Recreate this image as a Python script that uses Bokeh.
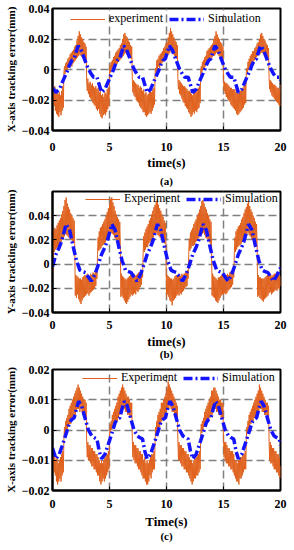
import numpy as np
from bokeh.plotting import figure
from bokeh.layouts import column
from bokeh.models import FixedTicker, CustomJSTickFormatter, LinearAxis
from bokeh.embed import file_html
from bokeh.resources import INLINE

# experiment sampling times (s), 0.05 s step
t_exp = np.round(np.arange(0, 401) * 0.05, 2)

# ---------------- (a) X-axis, values in 0.001 mm ----------------
exp_a = [
    -10, -20, -12, -24, -11, -27, -14, -29, -13, -30, -16, -31, -15, -28, -17, -30, -14, -27, -11, -25,
    -2, 2, -3, 4, -1, 5, 0, 7, 1, 8, 2, 10, 3, 11, 2, 12, 4, 13, 5, 15,
    6, 16, 7, 19, 8, 22, 9, 25, 10, 23, 9, 21, 8, 20, 9, 18, 7, 17, 6, 15,
    -8, -14, -6, -16, -9, -18, -8, -19, -10, -20, -9, -22, -11, -23, -12, -24, -11, -26, -13, -27,
    -12, -26, -15, -29, -14, -31, -17, -32, -16, -30, -18, -29, -15, -30, -16, -28, -13, -26, -12, -24,
    -1, 3, -2, 5, 0, 6, 1, 8, 0, 9, 2, 11, 3, 12, 4, 13, 5, 14, 6, 16,
    7, 17, 8, 20, 9, 23, 10, 24, 11, 22, 10, 21, 9, 19, 8, 18, 8, 16, 7, 15,
    -7, -15, -7, -17, -8, -18, -9, -20, -10, -21, -10, -22, -12, -24, -11, -25, -12, -26, -14, -28,
    -13, -28, -16, -30, -15, -31, -17, -30, -16, -29, -15, -28, -14, -29, -15, -27, -13, -25, -12, -23,
    -2, 1, -3, 6, -1, 7, 2, 9, 1, 10, 3, 11, 4, 12, 5, 14, 6, 15, 7, 17,
    8, 18, 9, 21, 10, 24, 11, 27, 12, 25, 11, 23, 10, 21, 9, 19, 8, 18, 7, 16,
    -6, -13, -7, -16, -8, -17, -9, -19, -10, -21, -11, -22, -11, -24, -12, -25, -13, -26, -14, -28,
    -14, -29, -15, -31, -16, -30, -17, -28, -15, -29, -14, -27, -15, -28, -13, -26, -12, -25, -11, -22,
    -1, 2, -2, 5, 0, 6, 1, 8, 2, 9, 3, 12, 4, 13, 5, 14, 6, 15, 7, 16,
    8, 17, 9, 20, 9, 22, 10, 25, 11, 23, 10, 21, 9, 20, 8, 18, 7, 17, 7, 15,
    -7, -14, -8, -16, -9, -18, -9, -19, -10, -20, -11, -21, -12, -23, -12, -24, -13, -25, -13, -26,
    -13, -27, -15, -29, -14, -30, -16, -29, -15, -28, -14, -27, -13, -26, -12, -25, -11, -23, -10, -22,
    -2, 1, -3, 5, 0, 7, 2, 9, 3, 10, 4, 12, 5, 12, 6, 14, 7, 15, 8, 17,
    9, 18, 10, 20, 10, 23, 11, 24, 11, 22, 10, 20, 9, 19, 8, 17, 8, 16, 7, 14,
    -6, -13, -7, -15, -8, -17, -9, -18, -10, -19, -10, -20, -11, -21, -12, -22, -12, -23, -13, -24,
    -10,
]
sim_a_t = [
    0.0, 0.3, 0.6, 1.0, 1.3, 1.5, 1.7, 1.9, 2.05, 2.25, 2.5, 2.8, 3.1, 3.4, 3.6, 3.9,
    4.1, 4.3, 4.6, 5.0, 5.3, 5.5, 5.7, 5.9, 6.05, 6.25, 6.5, 6.8, 7.1, 7.4, 7.6, 7.9,
    8.1, 8.3, 8.6, 9.0, 9.3, 9.5, 9.7, 9.9, 10.05, 10.25, 10.5, 10.8, 11.1, 11.4, 11.6, 11.9,
    12.1, 12.3, 12.6, 13.0, 13.3, 13.5, 13.7, 13.9, 14.05, 14.25, 14.5, 14.8, 15.1, 15.4, 15.6, 15.9,
    16.1, 16.3, 16.6, 17.0, 17.3, 17.5, 17.7, 17.9, 18.05, 18.25, 18.5, 18.8, 19.1, 19.4, 19.6, 19.9,
    20.0,
]
sim_a_v = [
    -12, -15, -13, -6, -1, 3, 6, 7, 11, 15.5, 13, 7, 1, -3, -5, -5,
    -10, -15, -13, -6, -1, 3, 6, 7, 11, 15.5, 13, 7, 1, -3, -5, -5,
    -10, -15, -13, -6, -1, 3, 6, 7, 11, 15.5, 13, 7, 1, -3, -5, -5,
    -10, -15, -13, -6, -1, 3, 6, 7, 11, 15.5, 13, 7, 1, -3, -5, -5,
    -10, -15, -13, -6, -1, 3, 6, 7, 11, 15.5, 13, 7, 1, -3, -5, -5,
    -7,
]

# ---------------- (b) Y-axis ----------------
exp_b = [
    26, -6, 28, 10, 30, 12, 29, 13, 32, 14, 34, 15, 36, 17, 38, 18, 41, 20, 44, 21,
    48, 23, 53, 25, 55, 24, 50, 23, 47, 22, 45, 21, 42, 20, 40, 19, 38, 18, 36, 16,
    -26, -9, -28, -10, -25, -11, -29, -12, -31, -12, -33, -13, -30, -11, -28, -10, -27, -9, -26, -10,
    -25, -8, -24, -9, -26, -10, -24, -8, -23, -9, -22, -7, -21, -8, -20, -6, -18, -4, -12, 8,
    22, 11, 27, 12, 30, 13, 31, 15, 33, 16, 35, 17, 37, 18, 40, 20, 43, 22, 46, 23,
    50, 25, 54, 26, 55, 25, 51, 24, 48, 22, 44, 21, 41, 20, 39, 18, 37, 17, 35, 16,
    -27, -8, -26, -10, -28, -11, -30, -12, -32, -13, -33, -12, -31, -11, -29, -10, -27, -9, -25, -9,
    -26, -9, -25, -8, -24, -10, -25, -9, -22, -8, -23, -7, -21, -7, -19, -6, -17, -5, -11, 9,
    23, 10, 26, 12, 29, 14, 31, 14, 33, 17, 36, 18, 38, 19, 41, 21, 44, 22, 47, 24,
    49, 25, 52, 26, 54, 24, 49, 23, 46, 22, 44, 21, 41, 19, 39, 18, 36, 17, 34, 15,
    -28, -9, -25, -10, -27, -11, -30, -12, -31, -12, -34, -13, -30, -12, -29, -10, -28, -9, -26, -10,
    -25, -8, -26, -9, -24, -10, -25, -8, -23, -9, -22, -8, -20, -7, -19, -6, -18, -5, -12, 8,
    21, 11, 26, 13, 28, 15, 30, 15, 33, 16, 35, 18, 37, 19, 40, 20, 42, 22, 45, 23,
    48, 24, 52, 25, 53, 26, 50, 24, 47, 22, 45, 21, 42, 20, 40, 18, 37, 17, 35, 16,
    -26, -8, -27, -10, -28, -11, -30, -12, -31, -13, -32, -11, -30, -11, -28, -10, -26, -9, -25, -9,
    -25, -9, -24, -10, -25, -9, -24, -8, -22, -9, -21, -7, -20, -6, -19, -6, -17, -5, -11, 9,
    22, 10, 27, 12, 29, 14, 31, 15, 32, 16, 34, 17, 37, 19, 39, 20, 42, 22, 45, 23,
    47, 24, 50, 26, 52, 24, 48, 23, 45, 21, 43, 20, 40, 19, 38, 18, 35, 17, 33, 15,
    -27, -9, -26, -11, -28, -11, -29, -12, -30, -12, -31, -12, -29, -11, -28, -10, -27, -9, -26, -10,
    -24, -8, -23, -9, -25, -10, -24, -9, -23, -8, -22, -8, -21, -7, -22, -8, -20, -9, -21, -10,
    -18,
]
sim_b_t = [
    0.0, 0.3, 0.6, 0.8, 1.0, 1.2, 1.5, 1.8, 2.1, 2.4, 2.6, 2.9, 3.1, 3.4, 3.7,
    4.0, 4.3, 4.6, 4.8, 5.0, 5.2, 5.5, 5.8, 6.1, 6.4, 6.6, 6.9, 7.1, 7.4, 7.7,
    8.0, 8.3, 8.6, 8.8, 9.0, 9.2, 9.5, 9.8, 10.1, 10.4, 10.6, 10.9, 11.1, 11.4, 11.7,
    12.0, 12.3, 12.6, 12.8, 13.0, 13.2, 13.5, 13.8, 14.1, 14.4, 14.6, 14.9, 15.1, 15.4, 15.7,
    16.0, 16.3, 16.6, 16.8, 17.0, 17.2, 17.5, 17.8, 18.1, 18.4, 18.6, 18.9, 19.1, 19.4, 19.7,
    20.0,
]
sim_b_v = [
    -2, 8, 14, 19, 26, 33, 28, 15, 3, -5, -6, -7, -10, -14, -9,
    -1, 8, 14, 19, 26, 33, 28, 15, 3, -5, -6, -7, -10, -14, -9,
    -1, 8, 14, 19, 26, 33, 28, 15, 3, -5, -6, -7, -10, -14, -9,
    -1, 8, 14, 19, 26, 33, 28, 15, 3, -5, -6, -7, -10, -14, -9,
    -1, 8, 14, 19, 26, 33, 28, 15, 3, -5, -6, -7, -10, -14, -9,
    -3,
]

# ---------------- (c) X-axis ----------------
exp_c = [
    -6, -12, -8, -14, -9, -15, -10, -17, -9, -18, -11, -17, -10, -16, -9, -17, -8, -15, -7, -14,
    -3, 1, -2, 3, -1, 4, 0, 5, 1, 7, 2, 8, 2, 9, 3, 10, 4, 11, 5, 12,
    5, 13, 6, 14, 7, 15, 7, 14, 6, 13, 7, 12, 6, 11, 5, 10, 5, 10, 4, 9,
    -4, -9, -4, -10, -5, -10, -5, -11, -6, -12, -6, -12, -7, -13, -7, -13, -8, -14, -8, -15,
    -9, -15, -10, -17, -11, -18, -10, -17, -11, -16, -10, -17, -9, -16, -8, -15, -8, -14, -7, -13,
    -2, 2, -1, 3, 0, 5, 1, 6, 1, 7, 2, 8, 3, 9, 3, 11, 4, 12, 5, 13,
    6, 14, 6, 15, 7, 14, 7, 13, 6, 12, 6, 11, 5, 11, 5, 10, 4, 9, 4, 9,
    -3, -9, -4, -10, -5, -11, -5, -11, -6, -12, -6, -13, -7, -13, -7, -14, -8, -15, -8, -16,
    -10, -16, -9, -17, -11, -18, -10, -18, -11, -17, -10, -15, -9, -16, -8, -14, -8, -13, -7, -13,
    -3, 1, -2, 3, 0, 5, 0, 6, 1, 7, 2, 9, 3, 9, 4, 10, 4, 11, 5, 12,
    6, 14, 7, 16, 7, 15, 8, 14, 7, 13, 6, 12, 6, 11, 5, 10, 5, 9, 4, 8,
    -4, -10, -4, -10, -5, -11, -5, -12, -6, -12, -6, -13, -7, -13, -7, -14, -8, -14, -8, -15,
    -9, -16, -10, -17, -10, -18, -11, -17, -10, -16, -9, -16, -9, -15, -8, -15, -8, -14, -7, -13,
    -2, 2, -1, 3, 0, 4, 1, 6, 1, 7, 2, 8, 3, 9, 3, 10, 4, 11, 5, 13,
    5, 13, 6, 14, 7, 14, 7, 13, 6, 12, 6, 11, 5, 10, 5, 10, 4, 9, 4, 9,
    -3, -9, -4, -10, -4, -11, -5, -11, -6, -12, -6, -12, -7, -13, -7, -13, -7, -14, -8, -15,
    -10, -16, -10, -17, -11, -17, -10, -18, -10, -16, -9, -16, -9, -15, -8, -14, -8, -13, -7, -13,
    -3, 1, -1, 3, 0, 5, 1, 6, 2, 7, 3, 8, 3, 9, 4, 10, 4, 11, 5, 12,
    6, 13, 6, 15, 7, 14, 7, 13, 6, 12, 6, 11, 5, 10, 5, 9, 5, 9, 4, 8,
    -4, -10, -4, -11, -5, -11, -6, -12, -6, -13, -7, -13, -7, -14, -8, -14, -8, -15, -9, -16,
    -12,
]
sim_c_t = [
    0.0, 0.3, 0.6, 1.0, 1.3, 1.5, 1.7, 1.9, 2.1, 2.3, 2.55, 2.85, 3.15, 3.45, 3.65, 3.9,
    4.1, 4.3, 4.6, 5.0, 5.3, 5.5, 5.7, 5.9, 6.1, 6.3, 6.55, 6.85, 7.15, 7.45, 7.65, 7.9,
    8.1, 8.3, 8.6, 9.0, 9.3, 9.5, 9.7, 9.9, 10.1, 10.3, 10.55, 10.85, 11.15, 11.45, 11.65, 11.9,
    12.1, 12.3, 12.6, 13.0, 13.3, 13.5, 13.7, 13.9, 14.1, 14.3, 14.55, 14.85, 15.15, 15.45, 15.65, 15.9,
    16.1, 16.3, 16.6, 17.0, 17.3, 17.5, 17.7, 17.9, 18.1, 18.3, 18.55, 18.85, 19.15, 19.45, 19.65, 19.9,
    20.0,
]
sim_c_v = [
    -6, -9.5, -8, -3.5, 0, 2.5, 3.5, 4, 7, 9.5, 8, 4, 0, -2, -2.5, -3,
    -7, -9.5, -8, -3.5, 0, 2.5, 3.5, 4, 7, 9.5, 8, 4, 0, -2, -2.5, -3,
    -7, -9.5, -8, -3.5, 0, 2.5, 3.5, 4, 7, 9.5, 8, 4, 0, -2, -2.5, -3,
    -7, -9.5, -8, -3.5, 0, 2.5, 3.5, 4, 7, 9.5, 8, 4, 0, -2, -2.5, -3,
    -7, -9.5, -8, -3.5, 0, 2.5, 3.5, 4, 7, 9.5, 8, 4, 0, -2, -2.5, -3,
    -5,
]

x_ticks = [0, 5, 10, 15, 20]
y_ticks_a = [-0.04, -0.02, 0, 0.02, 0.04]
y_ticks_b = [-0.04, -0.02, 0, 0.02, 0.04]
y_ticks_c = [-0.02, -0.01, 0, 0.01, 0.02]

SERIF = "Liberation Serif"
ORANGE = "#E0621E"
BLUE = "#1414FF"
SCALE = 0.001


def make_panel(exp_v, sim_t, sim_v, y_rng, y_ticks, grid_y, ylabel, xlabel,
               caption, exp_name, frame_h, btop, bbot, tick_so, lab_so,
               cap_so, leg_xy):
    n = min(len(t_exp), len(exp_v))
    p = figure(frame_width=228, frame_height=frame_h, x_range=(0, 20),
               y_range=y_rng, output_backend="svg", toolbar_location=None,
               min_border_left=52, min_border_right=14,
               min_border_top=btop, min_border_bottom=bbot)
    p.line(t_exp[:n], np.array(exp_v[:n]) * SCALE, line_color=ORANGE,
           line_width=1, legend_label=exp_name)
    p.line(sim_t, np.array(sim_v) * SCALE, line_color=BLUE, line_width=3.5,
           line_dash="9 3 2 3", legend_label="Simulation")

    p.xaxis.ticker = FixedTicker(ticks=x_ticks)
    p.yaxis.ticker = FixedTicker(ticks=y_ticks)
    p.yaxis.formatter = CustomJSTickFormatter(
        code="if (Math.abs(tick) < 1e-9) { return '0'; } "
             "return (tick < 0 ? '\u2212' : '') + Math.abs(tick).toFixed(2);")
    p.xgrid.ticker = FixedTicker(ticks=[5, 10, 15])
    p.ygrid.ticker = FixedTicker(ticks=grid_y)
    for g in (p.xgrid, p.ygrid):
        g.grid_line_color = "#808080"
        g.grid_line_width = 1.5
        g.grid_line_dash = "8 4"

    for ax in (p.xaxis, p.yaxis):
        ax.axis_line_color = "black"
        ax.axis_line_width = 2
        ax.major_tick_in = 4
        ax.major_tick_out = 0
        ax.minor_tick_line_color = None
        ax.major_label_text_font = SERIF
        ax.major_label_text_font_style = "bold"
        ax.major_label_text_font_size = "12px"
        ax.major_label_text_color = "black"
        ax.axis_label_text_font = SERIF
        ax.axis_label_text_font_style = "bold"
        ax.axis_label_text_color = "black"
    p.xaxis.axis_label = xlabel
    p.xaxis.axis_label_text_font_size = "13px"
    p.xaxis.axis_label_standoff = lab_so
    p.xaxis.major_label_standoff = tick_so
    p.yaxis.axis_label = ylabel
    p.yaxis.axis_label_text_font_size = "11px"
    p.yaxis.axis_label_standoff = 2
    p.yaxis.major_label_standoff = 3

    p.outline_line_color = "black"
    p.outline_line_width = 2
    p.outline_line_alpha = 1

    # caption "(a)" etc. as a tick-less axis below the x axis
    cap = LinearAxis(ticker=FixedTicker(ticks=[]), axis_label=caption,
                     axis_line_color=None, major_tick_line_color=None,
                     minor_tick_line_color=None,
                     major_label_text_font_size="0px",
                     axis_label_standoff=cap_so,
                     axis_label_text_font=SERIF,
                     axis_label_text_font_style="bold",
                     axis_label_text_font_size="11px",
                     axis_label_text_color="black")
    p.add_layout(cap, "below")

    lg = p.legend[0]
    lg.orientation = "horizontal"
    lg.location = leg_xy
    lg.background_fill_alpha = 0
    lg.border_line_alpha = 0
    lg.label_text_font = SERIF
    lg.label_text_font_size = "12px"
    lg.label_text_color = "black"
    lg.glyph_width = 35
    lg.glyph_height = 12
    lg.label_height = 12
    lg.label_standoff = 4
    lg.spacing = 6
    lg.padding = 0
    lg.margin = 0
    return p


pa = make_panel(exp_a, sim_a_t, sim_a_v, (-0.04, 0.04), y_ticks_a,
                [-0.02, 0, 0.02], "X-axis tracking error(mm)", "time(s)",
                "(a)", "experiment", 122, 8, 56, 12, 1, 2, (18, 104))
pb = make_panel(exp_b, sim_b_t, sim_b_v, (-0.04, 0.06), y_ticks_b,
                [-0.02, 0, 0.02, 0.04], "Y-axis tracking error(mm)", "time(s)",
                "(b)", "Experiment", 121, 2, 50, 8, 2, -4, (33, 106))
pc = make_panel(exp_c, sim_c_t, sim_c_v, (-0.02, 0.02), y_ticks_c,
                [-0.01, 0, 0.01], "X-axis tracking error(mm)", "Time(s)",
                "(c)", "Experiment", 121, 7, 54, 9, 3, -2, (30, 105))

layout = column(pa, pb, pc)
open("out.html", "w").write(file_html(layout, INLINE))
